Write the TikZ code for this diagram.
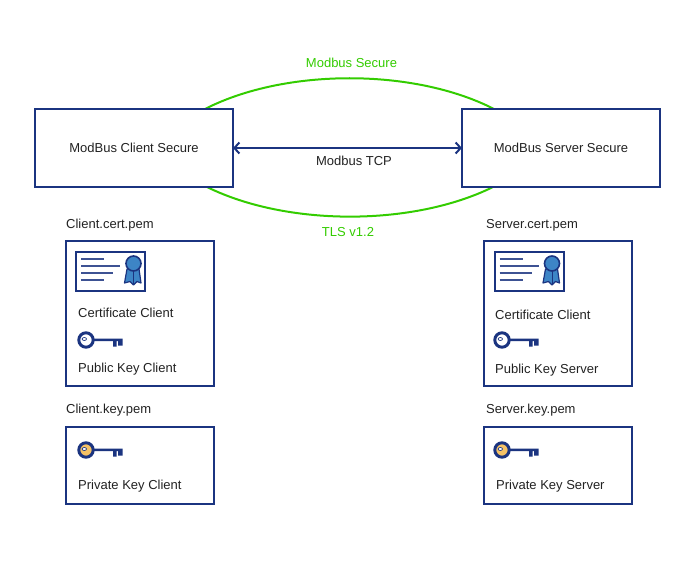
\documentclass[tikz,border=0pt]{standalone}
\usepackage{fontspec}
\setmainfont{Liberation Sans}
\usetikzlibrary{arrows.meta,positioning}
\definecolor{navy}{HTML}{1B3480}
\definecolor{tlsgreen}{HTML}{33CC00}
\definecolor{seal}{HTML}{3D85C6}
\definecolor{privkey}{HTML}{F5C266}
\definecolor{ink}{HTML}{222222}

\tikzset{
	box/.style={draw=navy,fill=white,line width=2pt,minimum width=#1,inner sep=0pt},
	mainbox/.style={box=198pt,minimum height=78pt},
	certbox/.style={box=148pt,minimum height=145pt},
	keybox/.style={box=148pt,minimum height=77pt},
	txt/.style={text=ink,font=\fontsize{13}{15}\selectfont,inner sep=0pt},
	note/.style={txt,anchor=west},
	green/.style={txt,text=tlsgreen},
	tunnel/.style={draw=tlsgreen,line width=2pt},
	pics/certicon/.style={code={
		\draw[navy,line width=2pt] (0,0) rectangle (69,39);
		\draw[navy!85,line width=2pt] (5,7) -- ++(23,0) (5,14) -- ++(39,0)
			(5,21) -- ++(32,0) (5,28) -- ++(23,0);
		\draw[navy,fill=seal,line width=1.2pt,line join=round] (51,17) -- (48.5,31) -- (54,29.5) -- (57.5,33) -- (61,29.5) -- (65,31) -- (63,17) -- cycle;
		\draw[navy,line width=1pt] (57.5,19) -- (57.5,32);
		\draw[navy,fill=seal,line width=1.6pt] (57.5,11.5) circle (7.5);
	}},
	pics/keyicon/.style={code={
		\fill[navy] (7,-1.5) rectangle (36.5,1) (27,0) rectangle (30.5,6.5) (32,0) rectangle (36.5,5.5);
		\draw[navy,line width=3pt,fill=#1] (0,0) circle (7.2);
		\draw[navy,line width=.7pt,fill=white] (-1.7,-1) ellipse (2.2 and 1.5);
	}}
}

\begin{document}
\begin{tikzpicture}[x=1pt,y=-1pt]
	\useasboundingbox (0,0) rectangle (700,580);

	\coordinate (topleft) at (205,109);
	\coordinate (topright) at (494,109);
	\coordinate (botleft) at (207,187);
	\coordinate (botright) at (493,187);
	\draw[tunnel] (topleft) .. controls (285,68) and (414,68) .. (topright);
	\draw[tunnel] (botleft) .. controls (287,226.5) and (413,226.5) .. (botright);

	\node[mainbox] (client) at (134,148) {};
	\node[mainbox] (server) [right=227pt of client] {};
	\node[txt] (clientname) at (134,148) {ModBus Client Secure};
	\node[txt] (servername) at (561,148) {ModBus Server Secure};

	\path (client) edge[<->,>={Straight Barb[length=5pt,width=11pt]},draw=navy,line width=2pt,shorten <=-1pt,shorten >=-1pt] (server);

	\node[green] (secure) at (351.5,63) {Modbus Secure};
	\node[txt] (tcp) at (354,161) {Modbus TCP};
	\node[green] (tls) at (348,232) {TLS v1.2};

	% client side
	\node[note] (clientcert) at (66,225) {Client.cert.pem};
	\node[certbox] (clientcertbox) at (140,313.5) {};
	\pic at (76,252) {certicon};
	\node[note] (clientcertname) at (78,313) {Certificate Client};
	\pic at (86,340) {keyicon=white};
	\node[note] (clientpub) at (78,369) {Public Key Client};
	\node[note] (clientkey) at (66,410) {Client.key.pem};
	\node[keybox] (clientkeybox) at (140,465.5) {};
	\pic at (86,450) {keyicon=privkey};
	\node[note] (clientpriv) at (78,486) {Private Key Client};

	% server side
	\node[note] (servercert) at (486,225) {Server.cert.pem};
	\node[certbox] (servercertbox) at (558,313.5) {};
	\pic at (494.5,252) {certicon};
	\node[note] (servercertname) at (495,315) {Certificate Client};
	\pic at (502,340) {keyicon=white};
	\node[note] (serverpub) at (495,370) {Public Key Server};
	\node[note] (serverkey) at (486,410) {Server.key.pem};
	\node[keybox] (serverkeybox) at (558,465.5) {};
	\pic at (502,450) {keyicon=privkey};
	\node[note] (serverpriv) at (496,486) {Private Key Server};
\end{tikzpicture}
\end{document}
